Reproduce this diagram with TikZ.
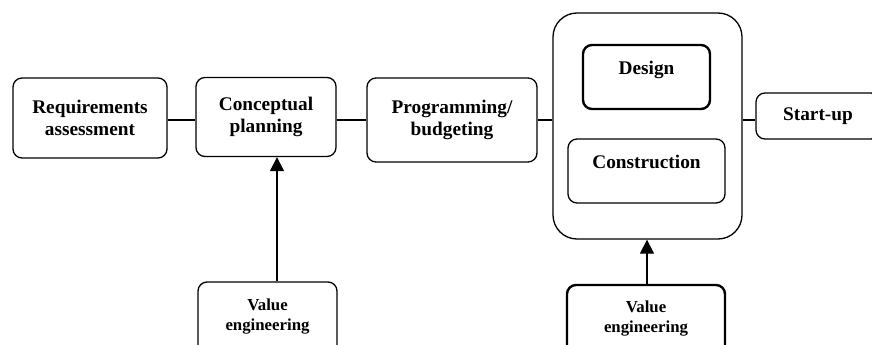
\documentclass[tikz,border=0pt]{standalone}
\usepackage{fontspec}
\setmainfont{Liberation Serif}
\usetikzlibrary{arrows.meta}
\begin{document}
\begin{tikzpicture}[x=1pt,y=-1pt,
  box/.style={draw, line width=1.3pt, rounded corners=9pt, align=center,
    font=\fontsize{19.3}{22}\selectfont\bfseries, inner sep=0pt},
  vebox/.style={box, font=\fontsize{16.8}{20}\selectfont\bfseries},
  conn/.style={line width=1.3pt},
  arr/.style={line width=1.3pt, -{Triangle[length=14pt,width=14pt]}}]
\clip (0,0) rectangle (872,345);
\fill[white] (0,0) rectangle (872,345);
\node[box, minimum width=154pt, minimum height=80pt] (req) at (90,118) {Requirements\\assessment};
\node[box, minimum width=140pt, minimum height=79pt] (con) at (266,117) {Conceptual\\planning};
\node[box, minimum width=170pt, minimum height=84pt] (prog) at (452,120) {Programming/\\budgeting};
\node[box, rounded corners=24pt, minimum width=189pt, minimum height=226pt] (big) at (647.5,126) {};
\node[box, line width=2.4pt, minimum width=127pt, minimum height=64pt, text depth=18pt] (des) at (646.5,77) {Design};
\node[box, minimum width=157pt, minimum height=64pt, text depth=18pt] (cons) at (646.5,171) {Construction};
\node[box, minimum width=124pt, minimum height=46pt] (start) at (818,116) {Start-up};
\node[vebox, minimum width=139pt, minimum height=76pt, text depth=10pt] (ve1) at (267.5,320) {Value\\engineering};
\node[vebox, line width=2.4pt, minimum width=158pt, minimum height=74pt, text depth=10pt] (ve2) at (646,322) {Value\\engineering};
\coordinate (ly) at (0,120);
\coordinate (ax1) at (277,0);
\coordinate (ax2) at (647,0);
\draw[conn] (req.east |- ly) -- (con.west |- ly);
\draw[conn] (con.east |- ly) -- (prog.west |- ly);
\draw[conn] (prog.east |- ly) -- (big.west |- ly);
\draw[conn] (big.east |- ly) -- (start.west |- ly);
\draw[arr] (ve1.north -| ax1) -- (con.south -| ax1);
\draw[arr] (ve2.north -| ax2) -- (big.south -| ax2);
\end{tikzpicture}
\end{document}
